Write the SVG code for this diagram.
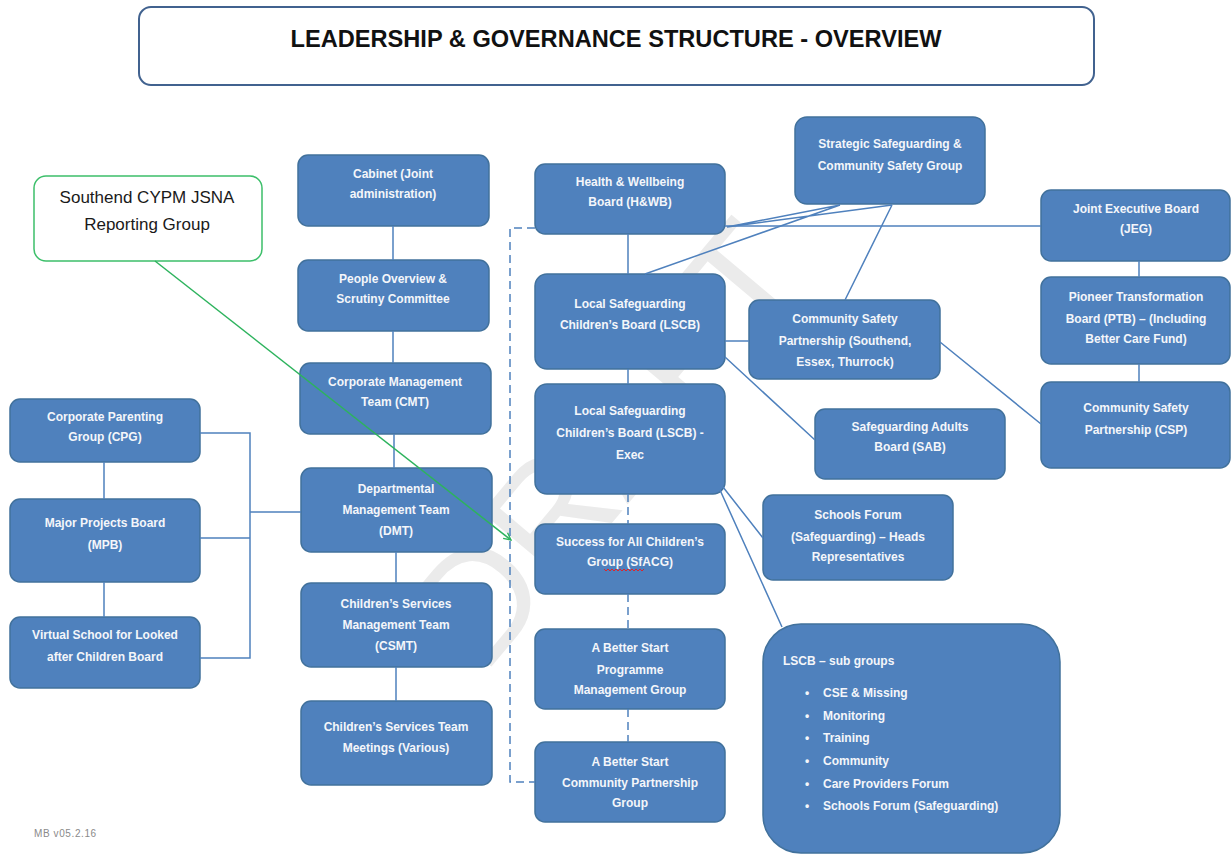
<svg xmlns="http://www.w3.org/2000/svg" width="1231" height="854" viewBox="0 0 1231 854">
<style>
.n{fill:#4f81bd;stroke:#41719c;stroke-width:1.5}
.t{font-family:"Liberation Sans",Arial,sans-serif;font-size:12px;font-weight:bold;fill:#f4f6fa;text-anchor:middle}
.c{stroke:#4f81bd;stroke-width:1.5;fill:none}
.d{stroke:#4f81bd;stroke-width:1.5;fill:none;stroke-dasharray:8 5}
</style>
<defs>
<marker id="ga" viewBox="0 0 10 10" refX="9" refY="5" markerWidth="9" markerHeight="9" orient="auto" markerUnits="userSpaceOnUse">
<path d="M1,1 L9,5 L1,9" fill="none" stroke="#2db35d" stroke-width="1.5"/>
</marker>
</defs>
<rect width="1231" height="854" fill="#ffffff"/>
<text x="0" y="0" transform="translate(618,452) rotate(-50)" font-family="Liberation Sans,Arial,sans-serif" font-size="155" fill="#ebebeb" text-anchor="middle" dominant-baseline="middle">DRAFT</text>

<g id="title">
<rect x="139" y="7" width="955" height="78" rx="12" fill="#ffffff" stroke="#41628f" stroke-width="2"/>
<text x="616" y="47" font-family="Liberation Sans,Arial,sans-serif" font-size="24" font-weight="bold" fill="#111" text-anchor="middle" textLength="651" lengthAdjust="spacingAndGlyphs">LEADERSHIP &amp; GOVERNANCE STRUCTURE - OVERVIEW</text>
</g>

<g id="jsna">
<rect x="34" y="176" width="228" height="85" rx="12" fill="#ffffff" stroke="#3cbf6a" stroke-width="1.5"/>
<text x="147" y="203" font-family="Liberation Sans,Arial,sans-serif" font-size="17" fill="#1a1a1a" text-anchor="middle">Southend CYPM JSNA</text>
<text x="147" y="230" font-family="Liberation Sans,Arial,sans-serif" font-size="17" fill="#1a1a1a" text-anchor="middle">Reporting Group</text>
</g>

<g id="cabinet"><rect class="n" x="298" y="155" width="191" height="71" rx="10"/>
<text class="t" x="393" y="178">Cabinet (Joint</text><text class="t" x="393" y="198">administration)</text></g>
<g id="people"><rect class="n" x="298" y="260" width="191" height="71" rx="10"/>
<text class="t" x="393" y="283">People Overview &amp;</text><text class="t" x="393" y="303">Scrutiny Committee</text></g>
<g id="cmt"><rect class="n" x="300" y="363" width="191" height="71" rx="10"/>
<text class="t" x="395" y="386">Corporate Management</text><text class="t" x="395" y="406">Team (CMT)</text></g>
<g id="dmt"><rect class="n" x="301" y="468" width="191" height="84" rx="10"/>
<text class="t" x="396" y="493">Departmental</text><text class="t" x="396" y="514">Management Team</text><text class="t" x="396" y="535">(DMT)</text></g>
<g id="csmt"><rect class="n" x="301" y="583" width="191" height="84" rx="10"/>
<text class="t" x="396" y="608">Children’s Services</text><text class="t" x="396" y="629">Management Team</text><text class="t" x="396" y="650">(CSMT)</text></g>
<g id="cstm"><rect class="n" x="301" y="701" width="191" height="84" rx="10"/>
<text class="t" x="396" y="731">Children’s Services Team</text><text class="t" x="396" y="752">Meetings (Various)</text></g>

<g id="cpg"><rect class="n" x="10" y="399" width="190" height="63" rx="10"/>
<text class="t" x="105" y="421">Corporate Parenting</text><text class="t" x="105" y="441">Group (CPG)</text></g>
<g id="mpb"><rect class="n" x="10" y="499" width="190" height="83" rx="10"/>
<text class="t" x="105" y="527">Major Projects Board</text><text class="t" x="105" y="549">(MPB)</text></g>
<g id="vslac"><rect class="n" x="10" y="617" width="190" height="71" rx="10"/>
<text class="t" x="105" y="639">Virtual School for Looked</text><text class="t" x="105" y="661">after Children Board</text></g>

<g id="hwb"><rect class="n" x="535" y="164" width="190" height="70" rx="10"/>
<text class="t" x="630" y="186">Health &amp; Wellbeing</text><text class="t" x="630" y="206">Board (H&amp;WB)</text></g>
<g id="lscb"><rect class="n" x="535" y="274" width="190" height="95" rx="12"/>
<text class="t" x="630" y="308">Local Safeguarding</text><text class="t" x="630" y="329">Children’s Board (LSCB)</text></g>
<g id="lscbexec"><rect class="n" x="535" y="384" width="190" height="110" rx="12"/>
<text class="t" x="630" y="415">Local Safeguarding</text><text class="t" x="630" y="437">Children’s Board (LSCB) -</text><text class="t" x="630" y="459">Exec</text></g>
<g id="sfacg"><rect class="n" x="535" y="524" width="190" height="70" rx="10"/>
<text class="t" x="630" y="546">Success for All Children’s</text><text class="t" x="630" y="566">Group (SfACG)</text>
<path d="M604,569 l2,2 l2,-2 l2,2 l2,-2 l2,2 l2,-2 l2,2 l2,-2 l2,2 l2,-2 l2,2 l2,-2 l2,2 l2,-2 l2,2 l2,-2 l2,2 l2,-2 l2,2 l2,-2" fill="none" stroke="#d9262c" stroke-width="1"/></g>
<g id="absprog"><rect class="n" x="535" y="629" width="190" height="80" rx="10"/>
<text class="t" x="630" y="652">A Better Start</text><text class="t" x="630" y="674">Programme</text><text class="t" x="630" y="694">Management Group</text></g>
<g id="abscomm"><rect class="n" x="535" y="742" width="190" height="80" rx="10"/>
<text class="t" x="630" y="766">A Better Start</text><text class="t" x="630" y="787">Community Partnership</text><text class="t" x="630" y="807">Group</text></g>

<g id="ssg"><rect class="n" x="795" y="117" width="190" height="87" rx="12"/>
<text class="t" x="890" y="148">Strategic Safeguarding &amp;</text><text class="t" x="890" y="170">Community Safety Group</text></g>
<g id="jeg"><rect class="n" x="1041" y="190" width="189" height="71" rx="10"/>
<text class="t" x="1136" y="213">Joint Executive Board</text><text class="t" x="1136" y="233">(JEG)</text></g>
<g id="ptb"><rect class="n" x="1041" y="277" width="189" height="87" rx="10"/>
<text class="t" x="1136" y="301">Pioneer Transformation</text><text class="t" x="1136" y="323">Board (PTB) – (Including</text><text class="t" x="1136" y="343">Better Care Fund)</text></g>
<g id="csp"><rect class="n" x="1041" y="382" width="189" height="86" rx="10"/>
<text class="t" x="1136" y="412">Community Safety</text><text class="t" x="1136" y="434">Partnership (CSP)</text></g>
<g id="cspset"><rect class="n" x="749" y="300" width="191" height="79" rx="10"/>
<text class="t" x="845" y="323">Community Safety</text><text class="t" x="845" y="345">Partnership (Southend,</text><text class="t" x="845" y="366">Essex, Thurrock)</text></g>
<g id="sab"><rect class="n" x="815" y="409" width="190" height="70" rx="10"/>
<text class="t" x="910" y="431">Safeguarding Adults</text><text class="t" x="910" y="451">Board (SAB)</text></g>
<g id="schoolsforum"><rect class="n" x="763" y="495" width="190" height="85" rx="10"/>
<text class="t" x="858" y="519">Schools Forum</text><text class="t" x="858" y="541">(Safeguarding)  – Heads</text><text class="t" x="858" y="561">Representatives</text></g>
<g id="subgroups"><rect class="n" x="763" y="624" width="297" height="229" rx="38"/>
<g style="font-family:'Liberation Sans',Arial,sans-serif;font-size:12px;font-weight:bold;fill:#f4f6fa">
<text x="783" y="665">LSCB – sub groups</text>
<text x="805" y="697">•</text><text x="823" y="697">CSE &amp; Missing</text>
<text x="805" y="720">•</text><text x="823" y="720">Monitoring</text>
<text x="805" y="742">•</text><text x="823" y="742">Training</text>
<text x="805" y="765">•</text><text x="823" y="765">Community</text>
<text x="805" y="788">•</text><text x="823" y="788">Care Providers Forum</text>
<text x="805" y="810">•</text><text x="823" y="810">Schools Forum  (Safeguarding)</text>
</g></g>

<text x="34" y="837" font-family="Liberation Sans,Arial,sans-serif" font-size="10" letter-spacing="0.6" fill="#8a8a8a">MB v05.2.16</text>

<g id="connectors">
<path class="c" d="M393,226V260 M393,331V363 M394,434V468 M396,552V583 M396,667V701"/>
<path class="c" d="M104,462V499 M104,582V617"/>
<path class="c" d="M200,433H250V658H200 M200,538H250 M250,512H301"/>
<path class="c" d="M628,234V274 M628,369V384"/>
<path class="d" d="M628,494V524 M628,594V629 M628,709V742"/>
<path class="d" d="M535,228H510V782H535"/>
<path class="c" d="M725,226H1041"/>
<path class="c" d="M727,227L840,205 M727,227L892,205 M645,274L840,205 M892,205L845,300"/>
<path class="c" d="M725,341H749 M725,357L815,440 M940,342L1041,424"/>
<path class="c" d="M1139,261V277 M1139,364V382"/>
<path class="c" d="M723,487L763,538 M720,490L782,627"/>
<path d="M155,261L511,540" fill="none" stroke="#2db35d" stroke-width="1.5" marker-end="url(#ga)"/>
</g>
</svg>
